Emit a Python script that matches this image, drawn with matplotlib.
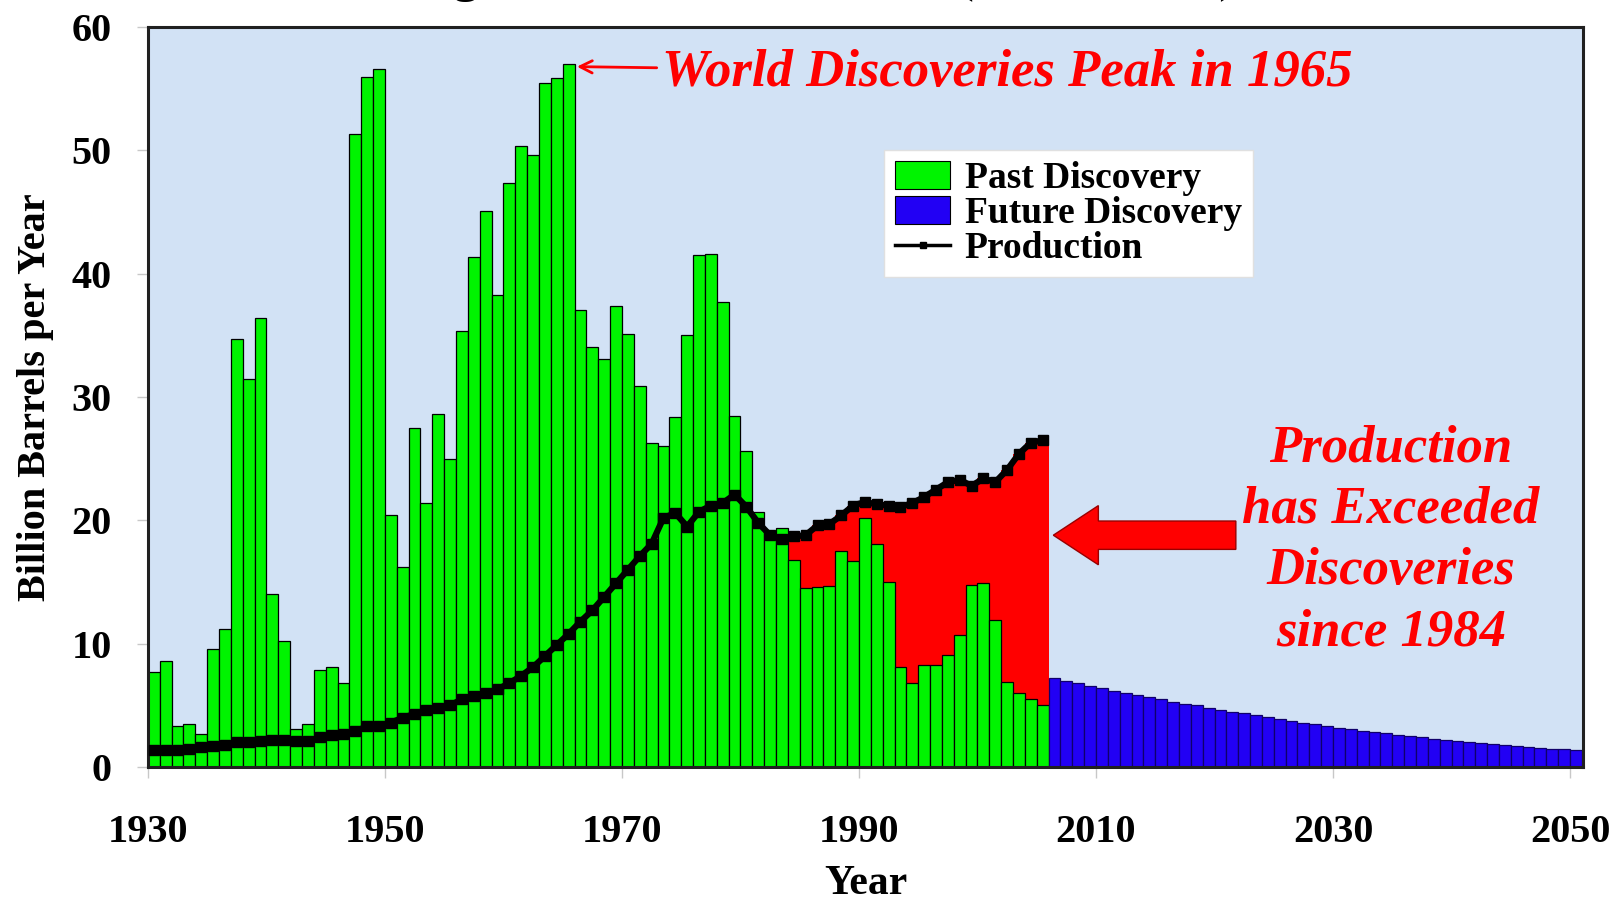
import matplotlib
matplotlib.use('Agg')
import matplotlib.pyplot as plt
import numpy as np
from matplotlib.patches import Patch, FancyArrow
from matplotlib.lines import Line2D

past_years = np.arange(1930, 2006)
past_disc = [7.7, 8.6, 3.3, 3.5, 2.7, 9.6, 11.2, 34.7, 31.5, 36.4,
             14.0, 10.2, 3.1, 3.5, 7.9, 8.1, 6.8, 51.3, 56.0, 56.6,
             20.4, 16.2, 27.5, 21.4, 28.6, 25.0, 35.4, 41.4, 45.1, 38.3,
             47.4, 50.4, 49.6, 55.5, 55.9, 57.0, 37.1, 34.1, 33.1, 37.4,
             35.1, 30.9, 26.3, 26.0, 28.4, 35.0, 41.5, 41.6, 37.7, 28.5,
             25.6, 20.7, 19.0, 19.4, 16.8, 14.5, 14.6, 14.7, 17.5, 16.7,
             20.2, 18.1, 15.0, 8.1, 6.8, 8.3, 8.3, 9.1, 10.7, 14.8,
             14.9, 11.9, 6.9, 6.0, 5.5, 5.0]

future_years = np.arange(2006, 2051)
future_disc = [7.2, 7.0, 6.8, 6.6, 6.4, 6.2, 6.0, 5.85, 5.7, 5.5,
               5.3, 5.15, 5.0, 4.8, 4.65, 4.5, 4.35, 4.2, 4.05, 3.9,
               3.75, 3.6, 3.45, 3.3, 3.2, 3.05, 2.95, 2.85, 2.75, 2.6,
               2.5, 2.4, 2.3, 2.2, 2.1, 2.0, 1.95, 1.85, 1.8, 1.7,
               1.65, 1.55, 1.5, 1.45, 1.4]

prod_years = np.arange(1930, 2006)
production = [1.4, 1.4, 1.4, 1.5, 1.6, 1.7, 1.8, 2.0, 2.0, 2.1,
              2.2, 2.2, 2.1, 2.1, 2.4, 2.6, 2.7, 2.9, 3.3, 3.3,
              3.6, 4.0, 4.3, 4.6, 4.8, 5.0, 5.5, 5.8, 6.0, 6.3,
              6.8, 7.4, 8.1, 9.0, 9.9, 10.8, 11.8, 12.7, 13.8, 14.9,
              16.0, 17.1, 18.1, 20.2, 20.6, 19.5, 20.7, 21.2, 21.4, 22.1,
              21.1, 19.8, 18.8, 18.5, 18.7, 18.8, 19.6, 19.7, 20.4, 21.2,
              21.5, 21.3, 21.2, 21.1, 21.4, 21.9, 22.5, 23.1, 23.3, 22.8,
              23.4, 23.1, 24.1, 25.4, 26.3, 26.5]

gap_start = 1984
serif = 'Liberation Serif'
green = '#00f400'
blue = '#2200f4'
red = '#ff0000'

fig = plt.figure(figsize=(16.22, 9.06), dpi=100)
ax = fig.add_axes([0.0912, 0.1534, 0.8848, 0.8166])
ax.set_facecolor('#d2e2f5')

# red gap: production above discovery since 1984
prod = np.array(production)
gap = prod_years >= gap_start
gx = np.append(prod_years[gap], prod_years[gap][-1] + 1)
gy = np.append(prod[gap], prod[gap][-1])
ax.fill_between(gx, 0, gy, step='post', color=red, zorder=1, lw=0)

ax.bar(past_years, past_disc, width=1, align='edge', color=green,
       edgecolor='black', lw=0.9, zorder=2)
ax.bar(future_years, future_disc, width=1, align='edge', color=blue,
       edgecolor='#10006a', lw=0.9, zorder=2)
ax.plot(prod_years + 0.5, production, color='black', lw=4.5, marker='s',
        markersize=7, zorder=3)

ax.set_xlim(1930, 2051.1)
ax.set_ylim(0, 60)
ax.set_xticks(range(1930, 2051, 20))
ax.set_yticks(range(0, 61, 10))
ax.tick_params(axis='both', direction='out', length=8, width=1, color='#c8c8c8')
ax.tick_params(axis='x', pad=26)
ax.tick_params(axis='y', pad=18)
for lab in ax.get_xticklabels() + ax.get_yticklabels():
    lab.set_fontfamily(serif)
    lab.set_fontweight('bold')
    lab.set_fontsize(29)
for sp in ax.spines.values():
    sp.set_linewidth(2.2)
    sp.set_color('#202020')

ax.set_xlabel('Year', fontsize=30, fontweight='bold', family=serif, labelpad=10)
ax.set_ylabel('Billion Barrels per Year', fontsize=29, fontweight='bold',
              family=serif, labelpad=13)

ax.annotate('World Discoveries Peak in 1965', xy=(1966.2, 56.8), xytext=(1973.4, 56.3),
            color=red, fontsize=38, fontweight='bold', fontstyle='italic', family=serif,
            va='center', ha='left', zorder=5,
            arrowprops=dict(arrowstyle='->', color=red, lw=2, mutation_scale=22,
                            shrinkA=2, shrinkB=0))

ax.text(2034.9, 18.4, 'Production\nhas Exceeded\nDiscoveries\nsince 1984',
        color=red, fontsize=38, fontweight='bold', fontstyle='italic', family=serif,
        ha='center', va='center', linespacing=1.36, zorder=5)

ax.add_patch(FancyArrow(2021.8, 18.8, -15.4, 0, width=2.3, head_width=4.8,
                        head_length=3.8, length_includes_head=True,
                        facecolor=red, edgecolor='#990000', lw=1, zorder=5))

handles = [Patch(facecolor=green, edgecolor='black', lw=0.8),
           Patch(facecolor=blue, edgecolor='black', lw=0.8),
           Line2D([], [], color='black', lw=2.5, marker='s', markersize=5)]
leg = ax.legend(handles, ['Past Discovery', 'Future Discovery', 'Production'],
                loc='upper left', bbox_to_anchor=(0.513, 0.834),
                prop={'family': serif, 'weight': 'bold', 'size': 27},
                frameon=True, fancybox=False, facecolor='white', edgecolor='#e0e0e0',
                framealpha=1, labelspacing=0.0, handlelength=1.45, handleheight=0.75,
                handletextpad=0.4, borderpad=0.3, borderaxespad=0)
leg.set_zorder(6)

# title sits above the top edge, only its descenders are visible
fig.text(0.503, 1.0095, 'Regular Conventional Oil (ASPO 2004)', fontsize=36,
         fontweight='bold', family=serif, ha='center', va='baseline')

plt.savefig('out.png', dpi=100)
